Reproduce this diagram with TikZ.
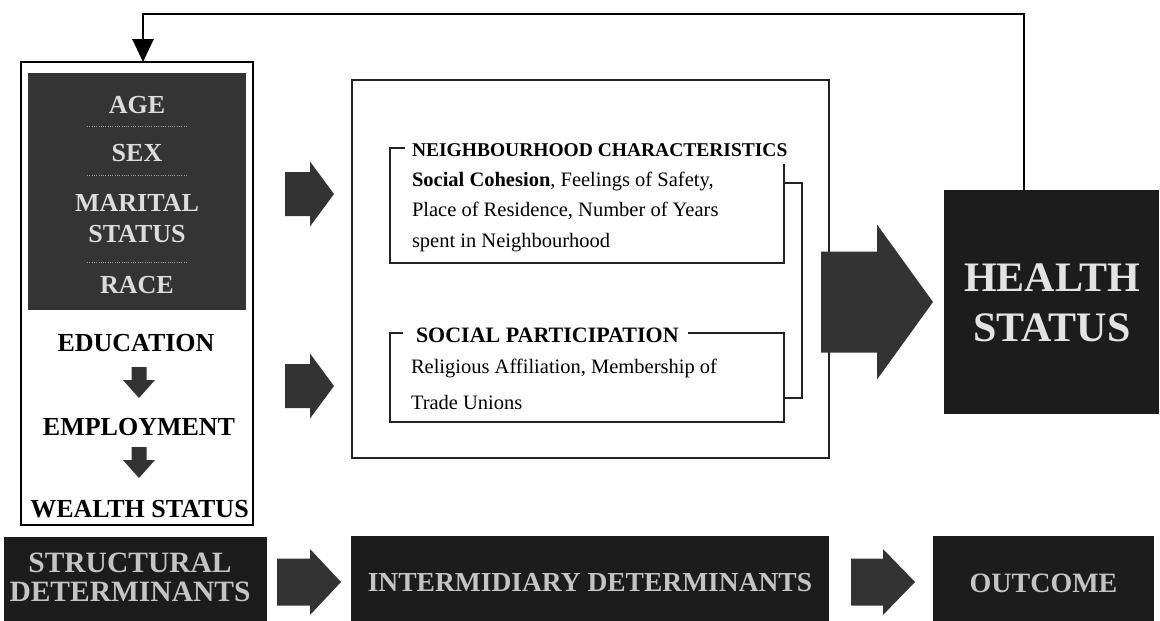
\documentclass[tikz,border=0pt]{standalone}
\usepackage{fontspec}
\setmainfont{Liberation Serif}
\usetikzlibrary{arrows.meta}

\definecolor{panel}{HTML}{1C1C1C}
\definecolor{softpanel}{HTML}{343434}
\definecolor{arrowgray}{HTML}{333333}
\definecolor{captext}{HTML}{DCDCDC}
\definecolor{dimtext}{HTML}{C4C4C4}
\definecolor{linegray}{HTML}{222222}

\newcommand\fsz[2]{\fontsize{#1}{#2}\selectfont}
% right-pointing block arrow: x start, x head, x tip, y centre, body half, head half
\newcommand\rblock[6]{%
  \fill[arrowgray] (#1,#4-#5) -- (#2,#4-#5) -- (#2,#4-#6) -- (#3,#4)
    -- (#2,#4+#6) -- (#2,#4+#5) -- (#1,#4+#5) -- cycle;}
% downward block arrow: x centre, y start, y head, y tip, body half, head half
\newcommand\dblock[6]{%
  \fill[arrowgray] (#1-#5,#2) -- (#1+#5,#2) -- (#1+#5,#3) -- (#1+#6,#3)
    -- (#1,#4) -- (#1-#6,#3) -- (#1-#5,#3) -- cycle;}

\begin{document}
\begin{tikzpicture}[x=1pt,y=-1pt,
  every node/.style={inner sep=0pt, outer sep=0pt},
  frame/.style={draw=black, line width=2.4pt, fill=white},
  thinframe/.style={draw=linegray, line width=1.5pt},
  bracket/.style={draw=linegray, line width=1.6pt},
  darkbox/.style={fill=panel},
  capsw/.style={text=captext, font=\fsz{26}{31}\bfseries, align=center},
  capsb/.style={text=black, font=\fsz{26}{30}\bfseries},
  bigcap/.style={text=dimtext, align=center},
  titletext/.style={text=black, font=\bfseries},
  bodytext/.style={text=black, font=\fsz{20.5}{30}},
  dots/.style={draw=gray!75, line width=1pt, dash pattern=on 1pt off 1.3pt},
  feedback/.style={draw=black, line width=2.8pt,
    -{Triangle[length=23pt, width=21pt]}}
]
\useasboundingbox (0,0) rectangle (1160,621);
\fill[white] (0,0) rectangle (1160,621);

% ---- structural determinants panel ----
\node[frame, minimum width=232pt, minimum height=463pt] (struct) at (137,293.5) {};
\node[fill=softpanel, minimum width=218pt, minimum height=237pt] (fixed) at (137,191.5) {};
\node[capsw, anchor=base] (age) at (137,113) {AGE};
\node[capsw, anchor=base] (sex) at (137,161) {SEX};
\node[capsw] (marital) at (137,219) {MARITAL\\STATUS};
\node[capsw, anchor=base] (race) at (137,293) {RACE};
\draw[dots] (87,126) -- (187,126);
\draw[dots] (87,175) -- (187,175);
\draw[dots] (87,262) -- (187,262);

\node[capsb, anchor=base] (edu) at (136,351) {EDUCATION};
\node[capsb, anchor=base] (emp) at (139,435) {EMPLOYMENT};
\node[capsb, anchor=base] (wealth) at (139.5,517) {WEALTH STATUS};
\dblock{139}{367}{380}{398}{7.5}{16}
\dblock{139}{447}{460}{478}{7.5}{16}

% ---- intermediary determinants panel ----
\node[thinframe, minimum width=477pt, minimum height=378pt] (inter) at (590.5,269) {};

\node[titletext, font=\fsz{19.5}{24}\bfseries, anchor=base west] (nctitle) at (412,156)
  {NEIGHBOURHOOD CHARACTERISTICS};
\node[bodytext, anchor=base west] (nc1) at (412,186)
  {\textbf{Social Cohesion}, Feelings of Safety,};
\node[bodytext, anchor=base west] (nc2) at (412,216.5)
  {Place of Residence, Number of Years};
\node[bodytext, anchor=base west] (nc3) at (412,247) {spent in Neighbourhood};
\draw[bracket] (405,148) -- (390,148) -- (390,263) -- (784,263) -- (784,164);

\node[titletext, font=\fsz{22}{26}\bfseries, anchor=base west] (sptitle) at (416,342)
  {SOCIAL PARTICIPATION};
\node[bodytext, anchor=base west] (sp1) at (411,373)
  {Religious Affiliation, Membership of};
\node[bodytext, anchor=base west] (sp2) at (411,409) {Trade Unions};
\draw[bracket] (403,333) -- (390,333) -- (390,422) -- (784,422) -- (784,333) -- (688,333);

% joint bracket linking both groups
\coordinate (ncR) at (784,183);
\coordinate (spR) at (784,398);
\draw[bracket] (ncR) -- (802,183) -- (802,398) -- (spR);

% ---- outcome ----
\node[darkbox, minimum width=215pt, minimum height=224pt] (health) at (1051.5,302) {};
\node[text=captext!80!white, font=\fsz{42}{50}\bfseries, align=center] (healthtxt)
  at (1052,303) {HEALTH\\STATUS};

% block arrows between panels
\rblock{285}{310}{334}{194}{22}{32.5}
\rblock{285}{310}{334}{386}{22}{32.5}
\rblock{821}{877}{933}{302}{50.5}{77.5}

% feedback loop
\coordinate (fbR) at (1024,14);
\coordinate (fbL) at (143,14);
\draw[feedback] (health.north -| fbR) -- (fbR) -- (fbL) -- (fbL |- struct.north);

% ---- bottom legend row ----
\node[darkbox, minimum width=263pt, minimum height=90pt, anchor=north west] (lstruct) at (4,537) {};
\node[bigcap, font=\fsz{29.5}{29}\bfseries] (lstructtxt) at (130,577.5)
  {STRUCTURAL\\DETERMINANTS};
\node[darkbox, minimum width=478pt, minimum height=90pt, anchor=north west] (linter) at (351,536) {};
\node[bigcap, font=\fsz{27.5}{30}\bfseries, anchor=base] (lintertxt) at (590,591)
  {INTERMIDIARY DETERMINANTS};
\node[darkbox, minimum width=221pt, minimum height=90pt, anchor=north west] (lout) at (933,536) {};
\node[bigcap, font=\fsz{28}{30}\bfseries, anchor=base] (louttxt) at (1043.5,592)
  {OUTCOME};
\rblock{277}{310}{341}{582}{23.5}{33}
\rblock{851}{883}{915}{582}{23.5}{33}
\end{tikzpicture}
\end{document}
